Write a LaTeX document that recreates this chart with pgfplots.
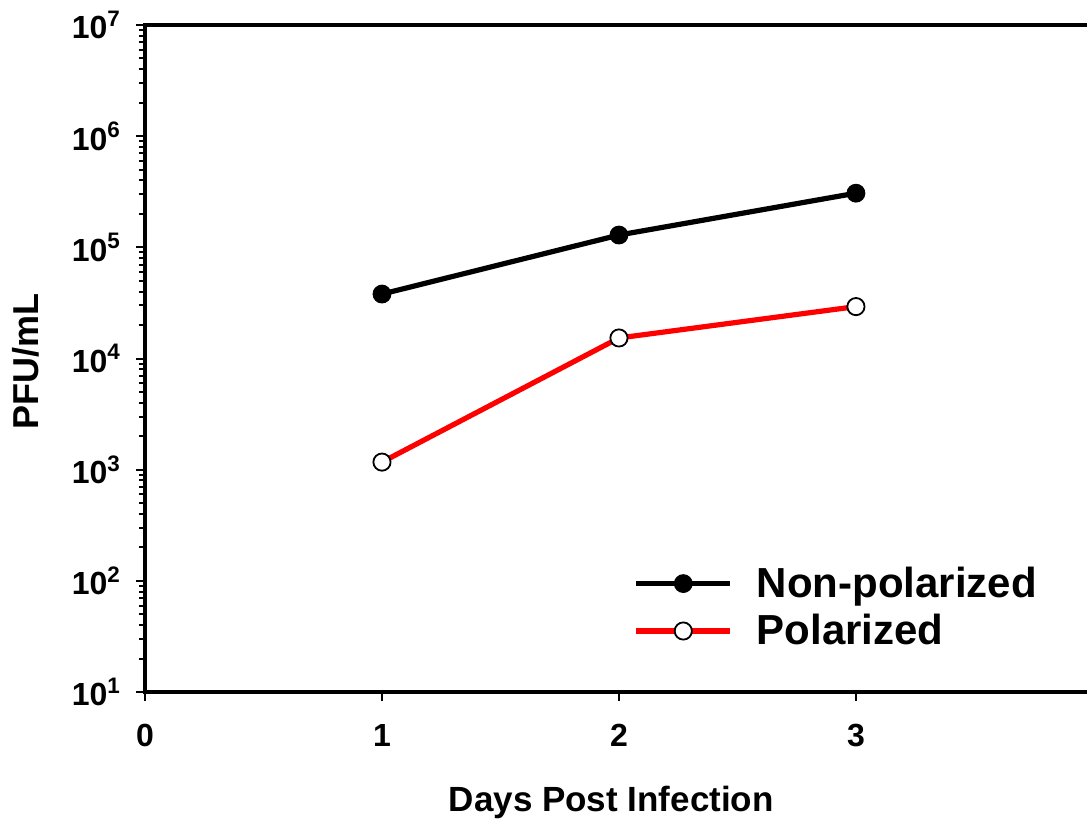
\documentclass[border=0pt]{standalone}
\usepackage{pgfplots}
\pgfplotsset{compat=1.18}
\usepackage{fontspec}
\setmainfont{Liberation Sans}
\begin{document}
\begin{tikzpicture}
\begin{axis}[
  name=ax, at={(0,0)}, anchor=south west,
  scale only axis, width=471pt, height=333.5pt,
  xmin=0, xmax=3.975, ymode=log, ymin=10, ymax=1e7,
  axis x line*=box, axis y line*=left,
  axis line style={line width=2pt, line cap=rect},
  xtick={0,1,2,3}, xticklabels={0,1,2,3},
  ytick={1e1,1e2,1e3,1e4,1e5,1e6,1e7},
  yticklabels={10\textsuperscript{1},10\textsuperscript{2},10\textsuperscript{3},10\textsuperscript{4},10\textsuperscript{5},10\textsuperscript{6},10\textsuperscript{7}},
  xtick pos=left, ytick pos=left, minor tick num=0,
  tick align=outside, major tick length=4.5pt,
  tick style={line width=1pt, black},
  ticklabel style={font=\bfseries\fontsize{16}{19}\selectfont},
  xticklabel style={yshift=-8pt},
  yticklabel style={xshift=-4pt},
  xlabel={Days Post Infection},
  ylabel={PFU/mL},
  xlabel style={font=\bfseries\fontsize{17.5}{21}\selectfont, at={(rel axis cs:0.495,0)}, anchor=north, inner sep=0pt, yshift=-47pt},
  ylabel style={font=\bfseries\fontsize{18}{21}\selectfont, at={(rel axis cs:-0.1115,0.496)}, anchor=south, inner sep=0pt},
  legend style={draw=none, fill=none, at={(rel axis cs:0.512,0.127)}, anchor=west,
    font=\bfseries\fontsize{21}{25}\selectfont, row sep=3pt,
    /tikz/every odd column/.append style={column sep=10pt}},
  legend cell align=left,
  legend image code/.code={\draw[mark repeat=2,mark phase=2,#1] plot coordinates {(0pt,0pt) (23.5pt,0pt) (47pt,0pt)};},
]
\addplot[black, line width=2.6pt, mark=*, mark size=4.3pt, mark options={solid, fill=black, draw=black, line width=0.8pt}]
  coordinates {(1,3.8e4) (2,1.29e5) (3,3.07e5)};
\addlegendentry{Non-polarized}
\addplot[red, line width=2.6pt, mark=*, mark size=4.3pt, mark options={solid, fill=white, draw=black, line width=0.9pt}]
  coordinates {(1,1.17e3) (2,1.53e4) (3,2.93e4)};
\addlegendentry{Polarized}
\end{axis}
\pgfresetboundingbox
\path (-72.5pt,-64.5pt) rectangle (471pt,346pt);
\end{tikzpicture}
\end{document}
